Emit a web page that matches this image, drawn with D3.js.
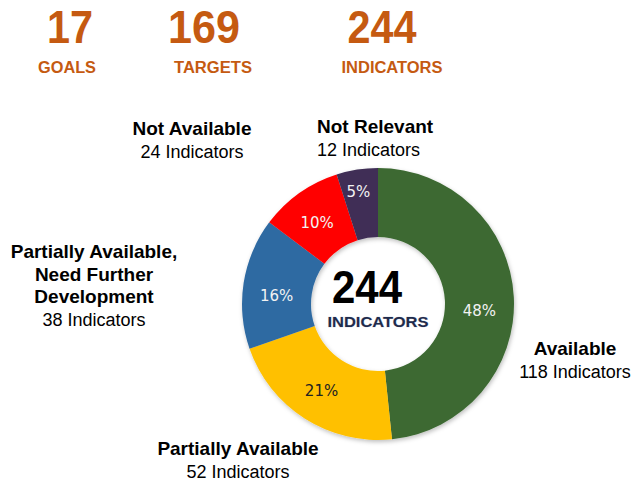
<!DOCTYPE html>
<html>
<head>
<meta charset="utf-8">
<script src="https://cdn.jsdelivr.net/npm/d3@7"></script>
<style>
  html, body { margin: 0; padding: 0; background: #fff; }
  svg { display: block; font-family: "Liberation Sans", Arial, sans-serif; }
</style>
</head>
<body>
<svg id="chart" width="636" height="483"></svg>
<script>
"use strict";

// header figures
const headerValues = ["17", "169", "244"];
const headerLabels = ["GOALS", "TARGETS", "INDICATORS"];

// donut data (clockwise from 12 o'clock)
const categories = ["Available", "Partially Available", "Partially Available, Need Further Development", "Not Available", "Not Relevant"];
const counts = [118, 52, 38, 24, 12];
const percentLabels = ["48%", "21%", "16%", "10%", "5%"];
const colors = ["#3c6932", "#ffc000", "#2f6aa2", "#ff0000", "#3f2f56"];
const percentColors = ["#f2f2f2", "#222", "#f2f2f2", "#f2f2f2", "#f2f2f2"];
const titleLines = [["Available"], ["Partially Available"], ["Partially Available,", "Need Further", "Development"], ["Not Available"], ["Not Relevant"]];
const totalLabel = "244";
const totalUnit = "INDICATORS";

const svg = d3.select("#chart");
const orange = "#c55a11";

// ---- header ----
const headerX = [70, 204, 382];
const headerLabelX = [67, 213, 392];
const numWidth = [46, 72, 69];
const labWidth = [58, 78, 101];

const header = svg.append("g");
headerValues.forEach((v, i) => {
    header.append("text")
        .attr("x", headerX[i])
        .attr("y", 43)
        .attr("text-anchor", "middle")
        .attr("font-size", 46)
        .attr("font-weight", "bold")
        .attr("fill", orange)
        .attr("textLength", numWidth[i])
        .attr("lengthAdjust", "spacingAndGlyphs")
        .text(v);
    header.append("text")
        .attr("x", headerLabelX[i])
        .attr("y", 73)
        .attr("text-anchor", "middle")
        .attr("font-size", 16)
        .attr("font-weight", "bold")
        .attr("fill", orange)
        .attr("textLength", labWidth[i])
        .attr("lengthAdjust", "spacingAndGlyphs")
        .text(headerLabels[i]);
});

// ---- donut ----
const cx = 378, cy = 304;
const outerR = 136, innerR = 67;

const defs = svg.append("defs");
const shadow = defs.append("filter").attr("id", "shadow")
    .attr("x", "-10%").attr("y", "-10%").attr("width", "120%").attr("height", "120%");
shadow.append("feDropShadow")
    .attr("dx", 1).attr("dy", 2).attr("stdDeviation", 2)
    .attr("flood-color", "#000").attr("flood-opacity", 0.25);

const pie = d3.pie().sort(null).value((d) => d)(counts);
const arc = d3.arc().innerRadius(innerR).outerRadius(outerR);
const labelArc = d3.arc().innerRadius((innerR + outerR) / 2).outerRadius((innerR + outerR) / 2);

const donut = svg.append("g").attr("transform", `translate(${cx}, ${cy})`);

donut.append("g")
    .attr("filter", "url(#shadow)")
    .selectAll("path")
    .data(pie)
    .enter()
    .append("path")
    .attr("d", arc)
    .attr("fill", (d, i) => colors[i]);

// small nudges so labels sit where the original has them
const nudge = [[0, 12], [-2, 1], [-1, 7], [-2, 1], [-4, -12]];

donut.selectAll(".pct")
    .data(pie)
    .enter()
    .append("text")
    .attr("class", "pct")
    .attr("transform", (d, i) => {
        const c = labelArc.centroid(d);
        return `translate(${c[0] + nudge[i][0]}, ${c[1] + nudge[i][1]})`;
    })
    .attr("text-anchor", "middle")
    .attr("dy", "0.36em")
    .attr("font-family", "'DejaVu Sans', sans-serif")
    .attr("font-size", 15)
    .attr("fill", (d, i) => percentColors[i])
    .text((d, i) => percentLabels[i]);

// centre text
donut.append("text")
    .attr("x", -11)
    .attr("y", -1)
    .attr("text-anchor", "middle")
    .attr("font-size", 46)
    .attr("font-weight", "bold")
    .attr("fill", "#000")
    .attr("textLength", 70)
    .attr("lengthAdjust", "spacingAndGlyphs")
    .text(totalLabel);

donut.append("text")
    .attr("x", 0)
    .attr("y", 23)
    .attr("text-anchor", "middle")
    .attr("font-size", 15)
    .attr("font-weight", "bold")
    .attr("fill", "#1f2b4b")
    .attr("stroke", "#c8d0e0")
    .attr("stroke-width", 0.6)
    .attr("paint-order", "stroke")
    .attr("textLength", 101)
    .attr("lengthAdjust", "spacingAndGlyphs")
    .text(totalUnit);

// ---- category labels ----
const labelPos = [[575, 355], [238, 455], [94, 258], [192, 135], [317, 133]];
const labelAnchor = ["middle", "middle", "middle", "middle", "start"];
const lineH = 22.5;

const labels = svg.append("g").attr("fill", "#000");
categories.forEach((c, i) => {
    const t = labels.append("text")
        .attr("text-anchor", labelAnchor[i])
        .attr("x", labelPos[i][0])
        .attr("y", labelPos[i][1]);
    titleLines[i].forEach((line, j) => {
        t.append("tspan")
            .attr("x", labelPos[i][0])
            .attr("dy", j === 0 ? 0 : lineH)
            .attr("font-size", 19)
            .attr("font-weight", "bold")
            .text(line);
    });
    t.append("tspan")
        .attr("x", labelPos[i][0])
        .attr("dy", lineH)
        .attr("font-size", 18)
        .text(`${counts[i]} Indicators`);
});
</script>
</body>
</html>
